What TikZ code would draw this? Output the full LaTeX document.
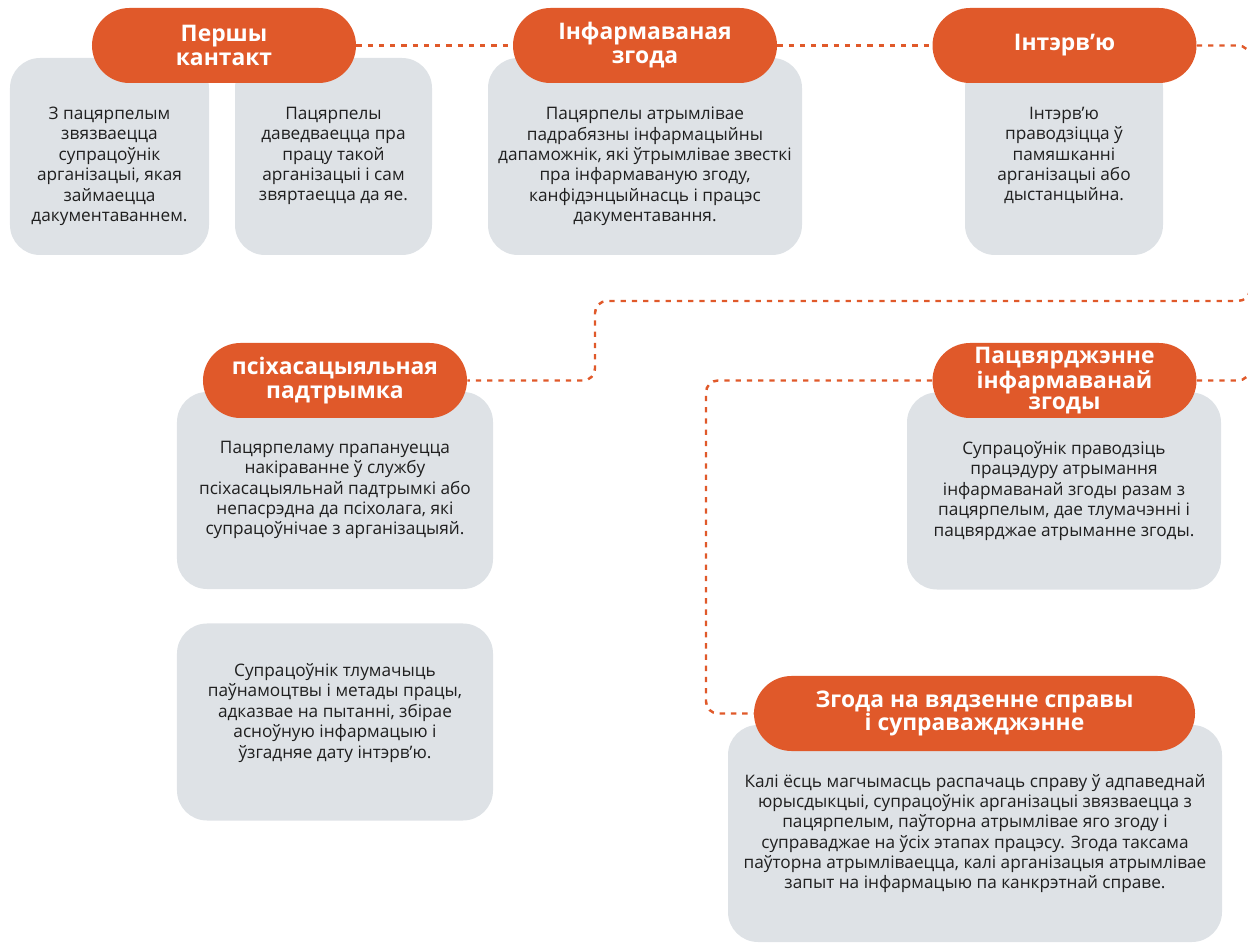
\documentclass[tikz,border=0pt]{standalone}
\usepackage{fontspec}
\setmainfont{Open Sans}
\usetikzlibrary{positioning, calc}
\definecolor{brandorange}{RGB}{224,89,42}
\definecolor{cardgrey}{RGB}{222,226,230}

\begin{document}
\begin{tikzpicture}[scale=0.2,
    card/.style={fill=cardgrey, rounded corners=0.6cm, minimum height=3.94cm, inner sep=0pt},
    pill/.style={fill=brandorange, rounded corners=0.75cm, minimum width=5.28cm, minimum height=1.5cm,
        text=white, font=\bfseries\fontsize{13}{13.6}\selectfont, align=center, inner sep=0pt},
    cardtxt/.style={anchor=north, align=center, font=\fontsize{9.8}{11.6}\selectfont, text=black!88, inner sep=0pt},
    link/.style={draw=brandorange, line width=1.4pt, dash pattern=on 3pt off 3.4pt, rounded corners=0.24cm}]
            \useasboundingbox (0,0) rectangle (124.8,-94.4);
            % grey cards
            \node [card, minimum width=3.98cm] (c1) at (10.95,-15.65) {};
            \node [card, minimum width=3.94cm] (c2) at (33.35,-15.65) {};
            \node [card, minimum width=6.28cm] (c3) at (64.5,-15.65) {};
            \node [card, minimum width=3.96cm] (c4) at (106.4,-15.65) {};
            \node [card, minimum width=6.32cm] (c5) at (33.5,-49.05) {};
            \node [card, minimum width=6.32cm] (c6) at (33.5,-72.2) {};
            \node [card, minimum width=6.28cm] (c7) at (106.4,-49.1) {};
            \node [card, minimum width=9.88cm, minimum height=4.34cm] (c8) at (97.5,-83.35) {};
            % bend points of the dotted links
            \coordinate (rgt) at (125.0,-30.1);
            \coordinate (mid) at (59.5,-30.1);
            \coordinate (lft) at (70.6,-38.05);
            % orange headers
            \node [pill] (pA) at (22.4,-4.55) {Першы\\кантакт};
            \node [pill] (pB) at (64.5,-4.55) {Інфармаваная\\згода};
            \node [pill] (pC) at (106.45,-4.55) {Інтэрв’ю};
            \node [pill] (pS) at (33.5,-38.05) {псіхасацыяльная\\падтрымка};
            \node [pill, font=\bfseries\fontsize{13}{12.3}\selectfont] (pV) at (106.45,-38.05) {Пацвярджэнне\\інфармаванай\\згоды};
            \node [pill, minimum width=8.82cm] (pZ) at (97.45,-71.35) {Згода на вядзенне справы\\і суправажджэнне};
            % dotted links
            \draw [link] (pA.east) -- (pB.west);
            \draw [link] (pB.east) -- (pC.west);
            \draw [link] (pC.east) -| (rgt) -- (mid) |- (pS.east);
            \draw [link] (pV.east) -| (rgt);
            \draw [link] (pV.west) -- (lft) |- (pZ.west);
            % card texts
            \node [cardtxt] (t1) at ($(c1.north)+(0,-4.9)$) {З пацярпелым\\звязваецца\\супрацоўнік\\арганізацыі, якая\\займаецца\\дакументаваннем.};
            \node [cardtxt] (t2) at ($(c2.north)+(0,-4.9)$) {Пацярпелы\\даведваецца пра\\працу такой\\арганізацыі і сам\\звяртаецца да яе.};
            \node [cardtxt] (t3) at ($(c3.north)+(0,-4.9)$) {Пацярпелы атрымлівае\\падрабязны інфармацыйны\\дапаможнік, які ўтрымлівае звесткі\\пра інфармаваную згоду,\\канфідэнцыйнасць і працэс\\дакументавання.};
            \node [cardtxt] (t4) at ($(c4.north)+(0,-4.9)$) {Інтэрв’ю\\праводзіцца ў\\памяшканні\\арганізацыі або\\дыстанцыйна.};
            \node [cardtxt] (t5) at ($(c5.north)+(0,-4.9)$) {Пацярпеламу прапануецца\\накіраванне ў службу\\псіхасацыяльнай падтрымкі або\\непасрэдна да псіхолага, які\\супрацоўнічае з арганізацыяй.};
            \node [cardtxt] (t6) at ($(c6.north)+(0,-4.0)$) {Супрацоўнік тлумачыць\\паўнамоцтвы і метады працы,\\адказвае на пытанні, збірае\\асноўную інфармацыю і\\ўзгадняе дату інтэрв’ю.};
            \node [cardtxt] (t7) at ($(c7.north)+(0,-4.9)$) {Супрацоўнік праводзіць\\працэдуру атрымання\\інфармаванай згоды разам з\\пацярпелым, дае тлумачэнні і\\пацвярджае атрыманне згоды.};
            \node [cardtxt] (t8) at ($(c8.north)+(0,-4.9)$) {Калі ёсць магчымасць распачаць справу ў адпаведнай\\юрысдыкцыі, супрацоўнік арганізацыі звязваецца з\\пацярпелым, паўторна атрымлівае яго згоду і\\суправаджае на ўсіх этапах працэсу. Згода таксама\\паўторна атрымліваецца, калі арганізацыя атрымлівае\\запыт на інфармацыю па канкрэтнай справе.};
\end{tikzpicture}
\end{document}
